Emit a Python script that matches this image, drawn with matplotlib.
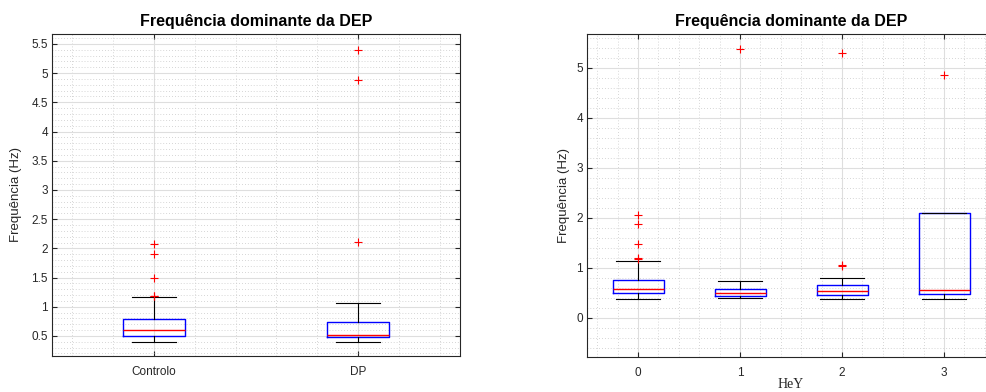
import matplotlib
matplotlib.use("Agg")
from matplotlib import pyplot as plt
from matplotlib.ticker import MultipleLocator, FuncFormatter

plt.rcParams['font.family'] = ['Liberation Sans', 'DejaVu Sans']

TITLE = "Frequência dominante da DEP"
YLABEL = "Frequência (Hz)"

# Left panel: Controlo vs DP
LEFT_LABELS = ["Controlo", "DP"]
LEFT_Q1 = [0.505, 0.48]
LEFT_MED = [0.598, 0.515]
LEFT_Q3 = [0.786, 0.735]
LEFT_WLO = [0.40, 0.40]
LEFT_WHI = [1.163, 1.07]
LEFT_FLIERS = [[2.07, 1.90, 1.50, 1.19, 1.18], [2.11, 4.88, 5.40]]

# Right panel: HeY stages
RIGHT_LABELS = ["0", "1", "2", "3"]
RIGHT_Q1 = [0.50, 0.45, 0.47, 0.48]
RIGHT_MED = [0.59, 0.51, 0.55, 0.56]
RIGHT_Q3 = [0.77, 0.59, 0.67, 2.10]
RIGHT_WLO = [0.39, 0.41, 0.39, 0.39]
RIGHT_WHI = [1.15, 0.75, 0.81, 2.10]
RIGHT_FLIERS = [[2.06, 1.89, 1.49, 1.20, 1.18], [5.39], [1.05, 1.07, 5.31], [4.86]]

GRID_MAJOR = "#dedede"
GRID_MINOR = "#c8c8c8"
AX_COLOR = "#262626"


def make_stats(labels, q1, med, q3, wlo, whi, fliers):
    stats = []
    for i in range(len(labels)):
        stats.append(dict(label=labels[i], q1=q1[i], med=med[i], q3=q3[i],
                          whislo=wlo[i], whishi=whi[i], fliers=fliers[i]))
    return stats


def draw_panel(ax, stats, positions, width, capw):
    ax.bxp(stats, positions=positions, widths=width, capwidths=capw,
           showfliers=True, manage_ticks=False,
           boxprops=dict(color="blue", linewidth=1.0),
           medianprops=dict(color="red", linewidth=1.0),
           whiskerprops=dict(color="black", linewidth=0.8),
           capprops=dict(color="black", linewidth=0.8),
           flierprops=dict(marker="+", markeredgecolor="red", markersize=6,
                           markeredgewidth=0.8, linestyle="none"))
    ax.set_axisbelow(True)
    ax.grid(True, which="major", color=GRID_MAJOR, linewidth=0.8, linestyle="-")
    ax.grid(True, which="minor", color=GRID_MINOR, linewidth=0.6, linestyle=(0, (1, 2.5)))
    for s in ax.spines.values():
        s.set_color(AX_COLOR)
        s.set_linewidth(0.8)
    ax.tick_params(which="major", direction="in", length=3.5, width=0.8,
                   top=True, right=True, colors=AX_COLOR, labelsize=8.5)
    ax.tick_params(axis="y", which="major", pad=3)
    ax.tick_params(axis="x", which="major", pad=7)
    ax.tick_params(which="minor", length=0, top=True, right=True)
    ax.yaxis.set_major_formatter(FuncFormatter(lambda v, p: "%g" % v))
    ax.set_title(TITLE, fontsize=11.5, fontweight="bold", pad=6)
    ax.set_ylabel(YLABEL, fontsize=9.5, color=AX_COLOR)


fig = plt.figure(figsize=(9.86, 3.92), dpi=100)

ax1 = fig.add_axes([52/986, 1-356/392, 408/986, 322/392])
draw_panel(ax1, make_stats(LEFT_LABELS, LEFT_Q1, LEFT_MED, LEFT_Q3, LEFT_WLO, LEFT_WHI, LEFT_FLIERS),
           [1, 2], 0.30, 0.22)
ax1.set_xlim(0.5, 2.5)
ax1.set_ylim(0.157, 5.67)
ax1.set_xticks([1, 2])
ax1.set_xticklabels(LEFT_LABELS)
ax1.yaxis.set_major_locator(MultipleLocator(0.5))
ax1.yaxis.set_minor_locator(MultipleLocator(0.1))
ax1.xaxis.set_minor_locator(MultipleLocator(0.2))
ax1.yaxis.set_label_coords(-0.0735, 0.5)

ax2 = fig.add_axes([587/986, 1-357/392, 408/986, 323/392])
draw_panel(ax2, make_stats(RIGHT_LABELS, RIGHT_Q1, RIGHT_MED, RIGHT_Q3, RIGHT_WLO, RIGHT_WHI, RIGHT_FLIERS),
           [0, 1, 2, 3], 0.5, 0.43)
ax2.set_xlim(-0.5, 3.5)
ax2.set_ylim(-0.78, 5.68)
ax2.set_xticks([0, 1, 2, 3])
ax2.set_xticklabels(RIGHT_LABELS)
ax2.yaxis.set_major_locator(MultipleLocator(1))
ax2.yaxis.set_minor_locator(MultipleLocator(0.2))
ax2.xaxis.set_minor_locator(MultipleLocator(0.2))
ax2.yaxis.set_label_coords(-0.042, 0.5)
ax2.set_xlabel("HeY", family=["Liberation Serif", "DejaVu Serif"], fontsize=10, color=AX_COLOR)
ax2.xaxis.set_label_coords(0.5, -0.066)
ax2.xaxis.label.set_verticalalignment("top")

fig.savefig("out.png", dpi=100)
